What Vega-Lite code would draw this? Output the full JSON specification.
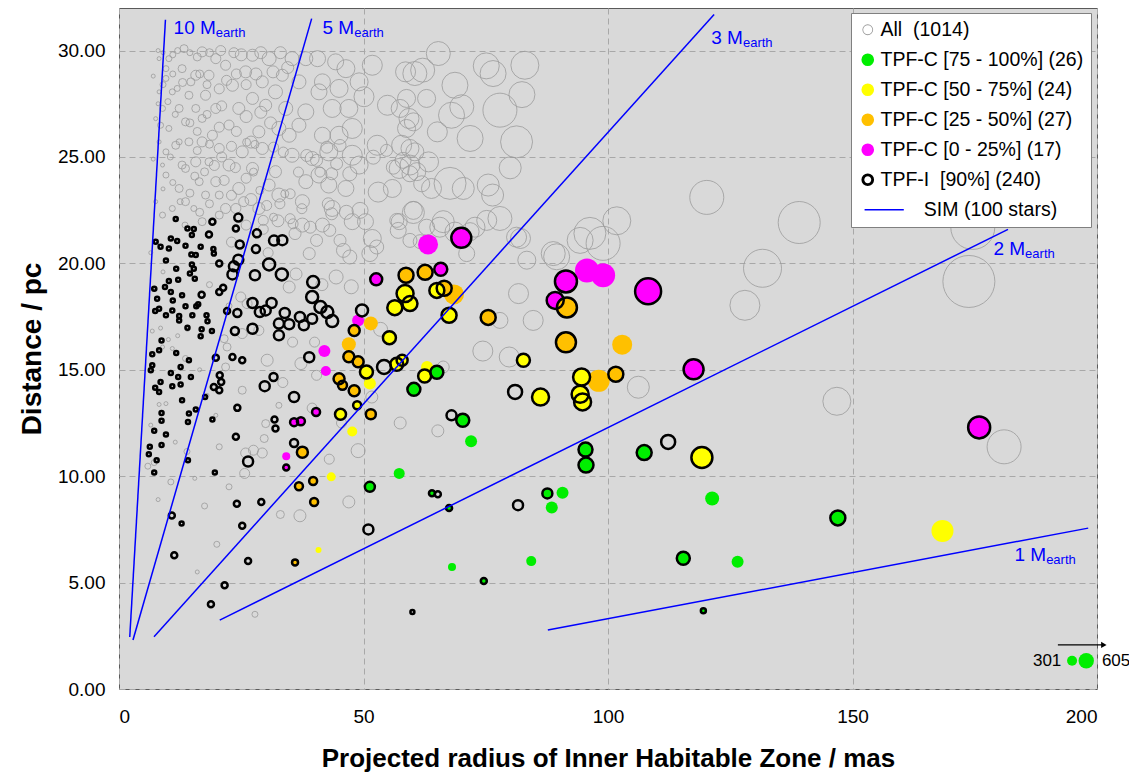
{
"$schema":"https://vega.github.io/schema/vega-lite/v6.json",
"width":978,"height":681,"autosize":"none",
"padding":{"left":119,"top":8,"right":32,"bottom":85},
"background":"white",
"config":{"font":"Liberation Sans","view":{"fill":"#d9d9d9","stroke":"#5a5a5a","strokeWidth":1},
"axis":{"labelFont":"Liberation Sans","labelFontSize":19,"labelColor":"black","titleFont":"Liberation Sans","titleFontWeight":"bold","titleColor":"black","grid":true,"gridColor":"#a8a8a8","gridDash":[6,4],"gridWidth":1,"domain":false,"ticks":false}},
"datasets":{
"pts":[
{"x":120.2,"y":23.1,"r":17,"c":"A","i":0},{"x":139.1,"y":21.92,"r":21,"c":"A","i":0},{"x":173.8,"y":19.15,"r":26,"c":"A","i":0},{"x":174.6,"y":21.69,"r":22,"c":"A","i":0},{"x":131.6,"y":19.77,"r":19,"c":"A","i":0},{"x":128.0,"y":18.03,"r":15,"c":"A","i":0},{"x":181.0,"y":11.38,"r":17,"c":"A","i":0},{"x":146.8,"y":13.52,"r":14,"c":"A","i":0},{"x":106.2,"y":14.18,"r":11,"c":"A","i":0},{"x":101.8,"y":22.0,"r":14,"c":"A","i":0},{"x":96.3,"y":21.41,"r":16,"c":"A","i":0},{"x":99.0,"y":20.94,"r":17,"c":"A","i":0},{"x":89.5,"y":20.31,"r":13,"c":"A","i":0},{"x":83.4,"y":20.15,"r":9,"c":"A","i":0},{"x":82.1,"y":21.17,"r":10,"c":"A","i":0},{"x":77.9,"y":22.11,"r":12,"c":"A","i":0},{"x":71.8,"y":21.49,"r":9,"c":"A","i":0},{"x":66.3,"y":21.96,"r":11,"c":"A","i":0},{"x":60.2,"y":22.39,"r":11,"c":"A","i":0},{"x":61.6,"y":21.02,"r":7,"c":"A","i":0},{"x":67.7,"y":23.76,"r":16,"c":"A","i":0},{"x":70.4,"y":23.52,"r":11,"c":"A","i":0},{"x":75.5,"y":23.68,"r":11,"c":"A","i":0},{"x":76.4,"y":23.21,"r":11,"c":"A","i":0},{"x":80.0,"y":24.49,"r":11,"c":"A","i":0},{"x":81.3,"y":25.71,"r":16,"c":"A","i":0},{"x":77.9,"y":27.2,"r":17,"c":"A","i":0},{"x":82.4,"y":27.93,"r":13,"c":"A","i":0},{"x":83.0,"y":29.31,"r":14,"c":"A","i":0},{"x":76.5,"y":28.92,"r":13,"c":"A","i":0},{"x":75.1,"y":29.28,"r":13,"c":"A","i":0},{"x":68.7,"y":28.37,"r":13,"c":"A","i":0},{"x":65.3,"y":29.86,"r":12,"c":"A","i":0},{"x":62.1,"y":29.08,"r":12,"c":"A","i":0},{"x":60.5,"y":28.92,"r":12,"c":"A","i":0},{"x":70.1,"y":27.36,"r":12,"c":"A","i":0},{"x":68.0,"y":26.96,"r":13,"c":"A","i":0},{"x":65.1,"y":26.18,"r":10,"c":"A","i":0},{"x":71.8,"y":25.87,"r":13,"c":"A","i":0},{"x":63.3,"y":24.77,"r":10,"c":"A","i":0},{"x":59.5,"y":24.62,"r":10,"c":"A","i":0},{"x":63.9,"y":23.52,"r":10,"c":"A","i":0},{"x":60.9,"y":24.31,"r":9,"c":"A","i":0},{"x":58.8,"y":26.34,"r":9,"c":"A","i":0},{"x":60.2,"y":26.65,"r":9,"c":"A","i":0},{"x":62.9,"y":27.75,"r":9,"c":"A","i":0},{"x":58.8,"y":27.75,"r":9,"c":"A","i":0},{"x":57.5,"y":27.28,"r":9,"c":"A","i":0},{"x":59.5,"y":25.4,"r":9,"c":"A","i":0},{"x":60.5,"y":25.24,"r":9,"c":"A","i":0},
{"x":81.3,"y":21.23,"r":10,"c":"A","i":0},{"x":84.7,"y":17.32,"r":10,"c":"A","i":0},{"x":74.4,"y":15.88,"r":10,"c":"A","i":0},{"x":79.8,"y":15.6,"r":10,"c":"A","i":0},{"x":81.7,"y":18.58,"r":10,"c":"A","i":0},{"x":88.8,"y":20.46,"r":12,"c":"A","i":0},{"x":94.3,"y":21.08,"r":13,"c":"A","i":0},{"x":65.6,"y":21.7,"r":10,"c":"A","i":0},{"x":68.7,"y":21.47,"r":10,"c":"A","i":0},{"x":72.8,"y":21.7,"r":10,"c":"A","i":0},{"x":75.2,"y":22.02,"r":10,"c":"A","i":0},{"x":71.1,"y":20.46,"r":8,"c":"A","i":0},{"x":66.3,"y":15.13,"r":6,"c":"A","i":0},{"x":77.9,"y":17.32,"r":8,"c":"A","i":0},{"x":65.2,"y":12.13,"r":6,"c":"A","i":0},{"x":48.9,"y":11.2,"r":7,"c":"A","i":0},{"x":40.4,"y":14.74,"r":5,"c":"A","i":0},{"x":44.4,"y":19.36,"r":7,"c":"A","i":0},{"x":38.9,"y":20.46,"r":6,"c":"A","i":0},{"x":43.1,"y":21.55,"r":6,"c":"A","i":0},{"x":45.9,"y":20.61,"r":7,"c":"A","i":0},{"x":47.2,"y":20.3,"r":7,"c":"A","i":0},{"x":51.3,"y":20.46,"r":8,"c":"A","i":0},{"x":57.1,"y":21.55,"r":8,"c":"A","i":0},{"x":59.5,"y":21.08,"r":7,"c":"A","i":0},{"x":51.7,"y":13.72,"r":6,"c":"A","i":0},
{"x":26.1,"y":25.69,"r":4,"c":"A","i":0},{"x":27.8,"y":25.59,"r":4,"c":"A","i":0},{"x":33.6,"y":25.23,"r":5,"c":"A","i":0},{"x":31.6,"y":25.46,"r":5,"c":"A","i":0},{"x":38.4,"y":25.07,"r":6,"c":"A","i":0},{"x":40.4,"y":24.84,"r":6,"c":"A","i":0},{"x":42.5,"y":25.46,"r":6,"c":"A","i":0},{"x":44.5,"y":24.68,"r":6,"c":"A","i":0},{"x":47.2,"y":24.21,"r":7,"c":"A","i":0},{"x":45.2,"y":25.54,"r":6,"c":"A","i":0},{"x":36.7,"y":24.29,"r":5,"c":"A","i":0},{"x":41.1,"y":24.29,"r":5,"c":"A","i":0},{"x":43.5,"y":24.21,"r":6,"c":"A","i":0},{"x":53.0,"y":23.35,"r":10,"c":"A","i":0},{"x":49.3,"y":22.49,"r":8,"c":"A","i":0},{"x":42.8,"y":22.8,"r":6,"c":"A","i":0},{"x":43.5,"y":22.33,"r":6,"c":"A","i":0},{"x":45.2,"y":21.08,"r":6,"c":"A","i":0},{"x":39.1,"y":21.7,"r":6,"c":"A","i":0},{"x":40.4,"y":21.08,"r":6,"c":"A","i":0},{"x":35.6,"y":21.86,"r":5,"c":"A","i":0},{"x":32.9,"y":22.8,"r":5,"c":"A","i":0},{"x":35.0,"y":23.27,"r":5,"c":"A","i":0},{"x":37.4,"y":22.57,"r":5,"c":"A","i":0},{"x":30.2,"y":22.72,"r":5,"c":"A","i":0},{"x":29.5,"y":22.02,"r":5,"c":"A","i":0},{"x":31.6,"y":22.17,"r":4,"c":"A","i":0},{"x":28.8,"y":23.43,"r":4,"c":"A","i":0},{"x":27.5,"y":24.29,"r":4,"c":"A","i":0},{"x":33.9,"y":23.27,"r":4,"c":"A","i":0},{"x":35.0,"y":22.1,"r":5,"c":"A","i":0},{"x":52.0,"y":24.99,"r":7,"c":"A","i":0},{"x":54.7,"y":25.31,"r":6,"c":"A","i":0},{"x":56.1,"y":24.52,"r":7,"c":"A","i":0},{"x":58.1,"y":24.84,"r":8,"c":"A","i":0},{"x":59.5,"y":24.21,"r":8,"c":"A","i":0},{"x":60.2,"y":22.49,"r":9,"c":"A","i":0},{"x":56.8,"y":22.02,"r":7,"c":"A","i":0},{"x":62.9,"y":21.7,"r":8,"c":"A","i":0},{"x":52.7,"y":20.77,"r":7,"c":"A","i":0},{"x":61.9,"y":23.74,"r":8,"c":"A","i":0},
{"x":51.8,"y":29.31,"r":10,"c":"A","i":0},{"x":50.1,"y":27.83,"r":10,"c":"A","i":0},{"x":54.9,"y":27.43,"r":10,"c":"A","i":0},{"x":58.6,"y":29.0,"r":10,"c":"A","i":0},{"x":59.3,"y":26.81,"r":10,"c":"A","i":0},{"x":57.8,"y":25.55,"r":10,"c":"A","i":0},{"x":57.3,"y":24.46,"r":10,"c":"A","i":0},{"x":52.8,"y":25.55,"r":10,"c":"A","i":0},{"x":47.7,"y":26.34,"r":10,"c":"A","i":0},{"x":47.7,"y":25.08,"r":10,"c":"A","i":0},{"x":42.9,"y":25.24,"r":9,"c":"A","i":0},{"x":41.6,"y":26.02,"r":8,"c":"A","i":0},{"x":43.6,"y":27.28,"r":9,"c":"A","i":0},{"x":44.3,"y":29.47,"r":8,"c":"A","i":0},{"x":40.6,"y":29.62,"r":8,"c":"A","i":0},{"x":41.6,"y":28.53,"r":8,"c":"A","i":0},{"x":42.9,"y":23.68,"r":8,"c":"A","i":0},{"x":50.4,"y":21.96,"r":8,"c":"A","i":0},{"x":55.9,"y":23.52,"r":9,"c":"A","i":0},{"x":57.3,"y":21.96,"r":8,"c":"A","i":0},{"x":51.8,"y":21.17,"r":9,"c":"A","i":0},{"x":41.6,"y":21.8,"r":7,"c":"A","i":0},{"x":37.5,"y":22.9,"r":7,"c":"A","i":0},{"x":39.5,"y":24.93,"r":7,"c":"A","i":0},{"x":38.2,"y":27.12,"r":8,"c":"A","i":0},{"x":36.8,"y":28.53,"r":7,"c":"A","i":0},{"x":35.4,"y":29.62,"r":7,"c":"A","i":0},{"x":30.7,"y":29.62,"r":7,"c":"A","i":0},{"x":30.0,"y":27.43,"r":6,"c":"A","i":0},{"x":32.7,"y":26.34,"r":7,"c":"A","i":0},{"x":28.6,"y":26.18,"r":6,"c":"A","i":0},{"x":27.3,"y":27.75,"r":6,"c":"A","i":0},{"x":24.5,"y":27.28,"r":6,"c":"A","i":0},{"x":23.2,"y":28.37,"r":6,"c":"A","i":0},{"x":25.9,"y":29.0,"r":6,"c":"A","i":0},{"x":27.3,"y":29.78,"r":6,"c":"A","i":0},{"x":21.8,"y":29.31,"r":5,"c":"A","i":0},{"x":19.8,"y":29.62,"r":5,"c":"A","i":0},{"x":17.0,"y":29.94,"r":5,"c":"A","i":0},{"x":15.7,"y":28.84,"r":5,"c":"A","i":0},{"x":17.7,"y":27.9,"r":5,"c":"A","i":0},{"x":19.8,"y":27.28,"r":5,"c":"A","i":0},{"x":17.0,"y":25.71,"r":5,"c":"A","i":0},{"x":20.5,"y":25.4,"r":5,"c":"A","i":0},{"x":15.7,"y":24.77,"r":5,"c":"A","i":0},{"x":22.5,"y":24.62,"r":6,"c":"A","i":0},{"x":27.3,"y":24.46,"r":6,"c":"A","i":0},{"x":25.2,"y":25.24,"r":6,"c":"A","i":0},{"x":29.3,"y":25.4,"r":6,"c":"A","i":0},{"x":30.7,"y":23.68,"r":6,"c":"A","i":0},{"x":24.5,"y":23.52,"r":6,"c":"A","i":0},{"x":21.8,"y":22.58,"r":5,"c":"A","i":0},{"x":19.8,"y":23.84,"r":5,"c":"A","i":0},{"x":16.4,"y":23.84,"r":4,"c":"A","i":0},{"x":13.6,"y":22.9,"r":4,"c":"A","i":0},{"x":12.3,"y":23.52,"r":4,"c":"A","i":0},{"x":10.9,"y":22.58,"r":3,"c":"A","i":0},{"x":8.9,"y":22.27,"r":3,"c":"A","i":0},{"x":9.6,"y":24.15,"r":3,"c":"A","i":0},{"x":12.9,"y":24.62,"r":4,"c":"A","i":0},{"x":11.6,"y":25.55,"r":4,"c":"A","i":0},{"x":9.6,"y":25.24,"r":3,"c":"A","i":0},{"x":10.2,"y":26.34,"r":3,"c":"A","i":0},{"x":8.9,"y":27.28,"r":3,"c":"A","i":0},{"x":10.9,"y":28.06,"r":3,"c":"A","i":0},{"x":9.6,"y":28.69,"r":3,"c":"A","i":0},{"x":10.2,"y":29.62,"r":3,"c":"A","i":0},{"x":12.9,"y":29.15,"r":4,"c":"A","i":0},{"x":13.3,"y":30.09,"r":4,"c":"A","i":0},{"x":15.7,"y":27.28,"r":4,"c":"A","i":0},{"x":13.6,"y":26.65,"r":4,"c":"A","i":0},{"x":14.3,"y":27.9,"r":4,"c":"A","i":0},{"x":12.3,"y":27.28,"r":4,"c":"A","i":0},{"x":8.2,"y":28.06,"r":2,"c":"A","i":0},{"x":8.2,"y":29.62,"r":2,"c":"A","i":0},{"x":8.5,"y":26.49,"r":3,"c":"A","i":0},{"x":8.2,"y":25.71,"r":2,"c":"A","i":0},{"x":8.9,"y":24.62,"r":2,"c":"A","i":0},{"x":11.9,"y":28.22,"r":3,"c":"A","i":0},{"x":9.6,"y":29.15,"r":3,"c":"A","i":0},{"x":14.7,"y":28.53,"r":4,"c":"A","i":0},{"x":18.4,"y":28.84,"r":5,"c":"A","i":0},{"x":17.0,"y":26.81,"r":4,"c":"A","i":0},{"x":19.1,"y":26.02,"r":5,"c":"A","i":0},{"x":14.3,"y":25.71,"r":4,"c":"A","i":0},{"x":12.3,"y":25.71,"r":3,"c":"A","i":0},{"x":13.6,"y":24.46,"r":4,"c":"A","i":0},{"x":18.4,"y":24.77,"r":4,"c":"A","i":0},{"x":20.5,"y":23.21,"r":4,"c":"A","i":0},{"x":17.7,"y":23.21,"r":4,"c":"A","i":0},{"x":15.3,"y":22.58,"r":3,"c":"A","i":0},{"x":17.0,"y":21.96,"r":4,"c":"A","i":0},{"x":20.5,"y":22.27,"r":4,"c":"A","i":0},{"x":23.9,"y":22.58,"r":5,"c":"A","i":0},{"x":28.6,"y":22.58,"r":6,"c":"A","i":0},{"x":32.7,"y":23.21,"r":7,"c":"A","i":0},{"x":32.0,"y":24.31,"r":6,"c":"A","i":0},{"x":35.4,"y":25.08,"r":7,"c":"A","i":0},{"x":34.8,"y":26.02,"r":7,"c":"A","i":0},{"x":36.8,"y":26.49,"r":7,"c":"A","i":0},{"x":32.0,"y":28.06,"r":7,"c":"A","i":0},{"x":34.1,"y":27.28,"r":7,"c":"A","i":0},{"x":29.3,"y":28.53,"r":6,"c":"A","i":0},{"x":33.4,"y":28.84,"r":6,"c":"A","i":0},{"x":38.2,"y":29.62,"r":7,"c":"A","i":0},{"x":40.9,"y":28.06,"r":8,"c":"A","i":0},{"x":45.0,"y":28.22,"r":9,"c":"A","i":0},{"x":46.4,"y":29.15,"r":9,"c":"A","i":0},{"x":49.1,"y":28.53,"r":9,"c":"A","i":0},{"x":47.0,"y":27.28,"r":9,"c":"A","i":0},{"x":45.0,"y":26.02,"r":9,"c":"A","i":0},{"x":49.1,"y":24.62,"r":9,"c":"A","i":0},{"x":40.9,"y":24.15,"r":8,"c":"A","i":0},{"x":38.2,"y":23.84,"r":7,"c":"A","i":0},{"x":46.4,"y":23.52,"r":8,"c":"A","i":0},{"x":43.6,"y":22.58,"r":8,"c":"A","i":0},{"x":47.7,"y":21.96,"r":8,"c":"A","i":0},{"x":37.5,"y":21.8,"r":7,"c":"A","i":0},
{"x":8.0,"y":30.0,"r":2,"c":"A","i":0},{"x":9.0,"y":29.9,"r":2,"c":"A","i":0},{"x":11.0,"y":29.8,"r":3,"c":"A","i":0},{"x":12.0,"y":30.0,"r":3,"c":"A","i":0},{"x":14.5,"y":29.9,"r":3,"c":"A","i":0},{"x":16.0,"y":29.7,"r":4,"c":"A","i":0},{"x":18.5,"y":29.9,"r":4,"c":"A","i":0},{"x":20.8,"y":30.0,"r":5,"c":"A","i":0},{"x":23.5,"y":29.9,"r":5,"c":"A","i":0},{"x":25.0,"y":29.8,"r":6,"c":"A","i":0},{"x":29.0,"y":29.9,"r":6,"c":"A","i":0},{"x":33.0,"y":29.9,"r":6,"c":"A","i":0},{"x":34.5,"y":29.2,"r":6,"c":"A","i":0},{"x":31.5,"y":29.0,"r":6,"c":"A","i":0},{"x":28.0,"y":28.9,"r":6,"c":"A","i":0},{"x":26.0,"y":28.4,"r":5,"c":"A","i":0},{"x":24.0,"y":28.9,"r":5,"c":"A","i":0},{"x":22.0,"y":28.6,"r":5,"c":"A","i":0},{"x":20.5,"y":28.2,"r":5,"c":"A","i":0},{"x":18.0,"y":28.4,"r":4,"c":"A","i":0},{"x":16.5,"y":28.9,"r":4,"c":"A","i":0},{"x":13.0,"y":28.5,"r":4,"c":"A","i":0},{"x":11.0,"y":28.9,"r":3,"c":"A","i":0},{"x":9.0,"y":28.4,"r":3,"c":"A","i":0},{"x":8.0,"y":27.5,"r":2,"c":"A","i":0},{"x":10.0,"y":27.6,"r":3,"c":"A","i":0},{"x":11.5,"y":27.0,"r":3,"c":"A","i":0},{"x":14.5,"y":26.6,"r":4,"c":"A","i":0},{"x":16.0,"y":26.2,"r":4,"c":"A","i":0},{"x":18.0,"y":27.0,"r":4,"c":"A","i":0},{"x":21.0,"y":27.4,"r":5,"c":"A","i":0},{"x":22.5,"y":26.5,"r":5,"c":"A","i":0},{"x":20.5,"y":26.4,"r":5,"c":"A","i":0},{"x":24.0,"y":26.2,"r":5,"c":"A","i":0},{"x":26.0,"y":26.9,"r":6,"c":"A","i":0},{"x":29.0,"y":27.1,"r":6,"c":"A","i":0},{"x":31.0,"y":26.6,"r":6,"c":"A","i":0},{"x":27.0,"y":25.7,"r":6,"c":"A","i":0},{"x":23.0,"y":25.5,"r":5,"c":"A","i":0},{"x":18.5,"y":25.6,"r":4,"c":"A","i":0},{"x":16.0,"y":25.3,"r":4,"c":"A","i":0},{"x":10.5,"y":25.0,"r":3,"c":"A","i":0},{"x":9.0,"y":23.5,"r":2,"c":"A","i":0},{"x":11.0,"y":23.8,"r":3,"c":"A","i":0},{"x":12.5,"y":22.9,"r":3,"c":"A","i":0},{"x":14.5,"y":23.3,"r":4,"c":"A","i":0},{"x":15.5,"y":24.1,"r":4,"c":"A","i":0},{"x":17.5,"y":24.3,"r":4,"c":"A","i":0},{"x":19.5,"y":24.6,"r":5,"c":"A","i":0},{"x":21.5,"y":23.9,"r":5,"c":"A","i":0},{"x":23.0,"y":23.2,"r":5,"c":"A","i":0},{"x":25.5,"y":22.9,"r":5,"c":"A","i":0},{"x":27.0,"y":23.0,"r":6,"c":"A","i":0},{"x":26.0,"y":24.0,"r":5,"c":"A","i":0},{"x":23.8,"y":24.5,"r":5,"c":"A","i":0},{"x":21.0,"y":25.0,"r":5,"c":"A","i":0},{"x":18.5,"y":22.8,"r":4,"c":"A","i":0},{"x":16.5,"y":22.4,"r":4,"c":"A","i":0},{"x":13.5,"y":21.8,"r":3,"c":"A","i":0},{"x":7.5,"y":22.9,"r":2,"c":"A","i":0},{"x":7.0,"y":24.9,"r":2,"c":"A","i":0},{"x":7.5,"y":26.8,"r":2,"c":"A","i":0},{"x":7.0,"y":28.8,"r":2,"c":"A","i":0},{"x":23.0,"y":21.0,"r":5,"c":"A","i":0},{"x":26.0,"y":21.8,"r":5,"c":"A","i":0},{"x":29.5,"y":21.6,"r":5,"c":"A","i":0},{"x":32.5,"y":22.0,"r":6,"c":"A","i":0},{"x":36.0,"y":21.4,"r":6,"c":"A","i":0},{"x":36.2,"y":19.5,"r":6,"c":"A","i":0},{"x":41.5,"y":19.0,"r":6,"c":"A","i":0},{"x":47.5,"y":18.9,"r":7,"c":"A","i":0},{"x":30.5,"y":20.5,"r":5,"c":"A","i":0},{"x":46.5,"y":22.4,"r":7,"c":"A","i":0},
{"x":6.8,"y":16.82,"r":2,"c":"A","i":0},{"x":8.5,"y":16.96,"r":2,"c":"A","i":0},{"x":10.1,"y":16.42,"r":2,"c":"A","i":0},{"x":10.9,"y":16.0,"r":2,"c":"A","i":0},{"x":8.2,"y":13.37,"r":2,"c":"A","i":0},{"x":9.6,"y":13.41,"r":2,"c":"A","i":0},{"x":13.6,"y":15.53,"r":3,"c":"A","i":0},{"x":19.8,"y":12.86,"r":2,"c":"A","i":0},{"x":25.2,"y":16.7,"r":5,"c":"A","i":0},{"x":25.2,"y":14.04,"r":4,"c":"A","i":0},{"x":21.8,"y":15.13,"r":4,"c":"A","i":0},{"x":21.5,"y":16.46,"r":4,"c":"A","i":0},{"x":22.1,"y":16.07,"r":4,"c":"A","i":0},{"x":30.0,"y":12.47,"r":4,"c":"A","i":0},{"x":30.3,"y":15.45,"r":6,"c":"A","i":0},{"x":37.2,"y":15.29,"r":6,"c":"A","i":0},{"x":29.7,"y":11.77,"r":4,"c":"A","i":0},{"x":32.7,"y":13.33,"r":3,"c":"A","i":0},{"x":20.5,"y":11.38,"r":3,"c":"A","i":0},{"x":13.9,"y":11.16,"r":3,"c":"A","i":0},{"x":25.9,"y":11.09,"r":5,"c":"A","i":0},{"x":27.5,"y":11.22,"r":5,"c":"A","i":0},{"x":29.3,"y":11.09,"r":5,"c":"A","i":0},{"x":25.7,"y":10.13,"r":5,"c":"A","i":0},{"x":10.6,"y":9.73,"r":3,"c":"A","i":0},{"x":7.2,"y":10.64,"r":3,"c":"A","i":0},{"x":5.9,"y":10.47,"r":3,"c":"A","i":0},{"x":47.0,"y":8.79,"r":6,"c":"A","i":0},{"x":37.0,"y":8.14,"r":6,"c":"A","i":0},{"x":27.8,"y":3.51,"r":3,"c":"A","i":0},{"x":8.9,"y":16.07,"r":2,"c":"A","i":0},{"x":34.8,"y":18.89,"r":6,"c":"A","i":0},{"x":24.9,"y":18.42,"r":5,"c":"A","i":0},{"x":26.2,"y":18.11,"r":5,"c":"A","i":0},{"x":28.6,"y":16.85,"r":5,"c":"A","i":0},{"x":7.5,"y":18.8,"r":2,"c":"A","i":0},{"x":9.0,"y":19.6,"r":2,"c":"A","i":0},{"x":6.5,"y":20.5,"r":2,"c":"A","i":0},{"x":12.0,"y":16.6,"r":2,"c":"A","i":0},{"x":14.0,"y":16.9,"r":2,"c":"A","i":0},{"x":16.5,"y":15.0,"r":2,"c":"A","i":0},{"x":18.0,"y":13.8,"r":2,"c":"A","i":0},{"x":6.5,"y":12.4,"r":2,"c":"A","i":0},{"x":11.5,"y":11.6,"r":2,"c":"A","i":0},{"x":15.5,"y":9.9,"r":2,"c":"A","i":0},{"x":17.5,"y":8.6,"r":3,"c":"A","i":0},{"x":8.0,"y":8.9,"r":2,"c":"A","i":0},{"x":22.5,"y":9.5,"r":3,"c":"A","i":0},{"x":20.0,"y":6.8,"r":3,"c":"A","i":0},{"x":16.0,"y":5.5,"r":2,"c":"A","i":0},{"x":33.0,"y":8.2,"r":4,"c":"A","i":0},{"x":43.0,"y":10.8,"r":5,"c":"A","i":0},{"x":45.5,"y":12.5,"r":5,"c":"A","i":0},{"x":39.5,"y":13.2,"r":5,"c":"A","i":0},{"x":33.5,"y":14.4,"r":5,"c":"A","i":0},{"x":35.5,"y":16.3,"r":5,"c":"A","i":0},{"x":40.0,"y":16.3,"r":5,"c":"A","i":0},{"x":22.5,"y":18.0,"r":3,"c":"A","i":0},{"x":18.5,"y":19.0,"r":3,"c":"A","i":0},{"x":57.5,"y":12.5,"r":6,"c":"A","i":0},{"x":53.5,"y":16.9,"r":7,"c":"A","i":0},
{"x":11.6,"y":22.08,"r":2,"c":"I","i":1},{"x":14.0,"y":21.64,"r":2,"c":"I","i":1},{"x":15.3,"y":21.61,"r":2,"c":"I","i":1},{"x":14.9,"y":21.33,"r":2,"c":"I","i":1},{"x":10.6,"y":21.17,"r":2,"c":"I","i":1},{"x":11.9,"y":21.05,"r":2,"c":"I","i":1},{"x":7.5,"y":21.02,"r":2,"c":"I","i":1},{"x":8.5,"y":20.78,"r":2,"c":"I","i":1},{"x":10.2,"y":20.7,"r":2,"c":"I","i":1},{"x":13.6,"y":20.83,"r":2,"c":"I","i":1},{"x":15.7,"y":20.39,"r":2,"c":"I","i":1},{"x":16.7,"y":20.78,"r":2,"c":"I","i":1},{"x":19.3,"y":20.67,"r":2,"c":"I","i":1},{"x":19.1,"y":21.96,"r":3,"c":"I","i":1},{"x":18.4,"y":21.36,"r":3,"c":"I","i":1},{"x":23.9,"y":21.64,"r":3,"c":"I","i":1},{"x":24.4,"y":22.15,"r":4,"c":"I","i":1},{"x":24.7,"y":20.89,"r":4,"c":"I","i":1},{"x":28.2,"y":21.41,"r":4,"c":"I","i":1},{"x":28.0,"y":20.67,"r":4,"c":"I","i":1},{"x":31.7,"y":21.07,"r":5,"c":"I","i":1},{"x":33.4,"y":21.09,"r":5,"c":"I","i":1},
{"x":9.6,"y":20.14,"r":2,"c":"I","i":1},{"x":14.8,"y":20.42,"r":2,"c":"I","i":1},{"x":19.4,"y":20.46,"r":2,"c":"I","i":1},{"x":14.9,"y":19.95,"r":2,"c":"I","i":1},{"x":15.3,"y":19.75,"r":2,"c":"I","i":1},{"x":14.5,"y":19.52,"r":2,"c":"I","i":1},{"x":15.5,"y":19.28,"r":2,"c":"I","i":1},{"x":11.7,"y":19.75,"r":2,"c":"I","i":1},{"x":10.2,"y":19.17,"r":2,"c":"I","i":1},{"x":12.1,"y":19.23,"r":2,"c":"I","i":1},{"x":7.2,"y":18.81,"r":2,"c":"I","i":1},{"x":9.4,"y":18.89,"r":2,"c":"I","i":1},{"x":10.6,"y":18.65,"r":2,"c":"I","i":1},{"x":12.9,"y":18.5,"r":2,"c":"I","i":1},{"x":7.8,"y":18.34,"r":2,"c":"I","i":1},{"x":11.0,"y":18.26,"r":2,"c":"I","i":1},{"x":16.9,"y":18.53,"r":3,"c":"I","i":1},{"x":16.2,"y":18.08,"r":2,"c":"I","i":1},{"x":15.8,"y":17.98,"r":2,"c":"I","i":1},{"x":13.6,"y":17.98,"r":2,"c":"I","i":1},{"x":7.4,"y":17.76,"r":2,"c":"I","i":1},{"x":8.2,"y":17.87,"r":2,"c":"I","i":1},{"x":9.6,"y":17.56,"r":2,"c":"I","i":1},{"x":10.9,"y":17.79,"r":2,"c":"I","i":1},{"x":12.3,"y":17.53,"r":2,"c":"I","i":1},{"x":12.3,"y":17.32,"r":2,"c":"I","i":1},{"x":15.0,"y":17.56,"r":2,"c":"I","i":1},{"x":17.9,"y":17.56,"r":2,"c":"I","i":1},{"x":18.1,"y":17.28,"r":2,"c":"I","i":1},{"x":14.0,"y":16.98,"r":2,"c":"I","i":1},{"x":16.9,"y":16.9,"r":2,"c":"I","i":1},{"x":16.7,"y":16.57,"r":2,"c":"I","i":1},{"x":19.0,"y":16.82,"r":2,"c":"I","i":1},{"x":8.7,"y":16.38,"r":2,"c":"I","i":1},{"x":6.8,"y":15.73,"r":2,"c":"I","i":1},{"x":8.2,"y":15.92,"r":2,"c":"I","i":1},{"x":11.7,"y":15.79,"r":2,"c":"I","i":1},{"x":14.3,"y":15.45,"r":2,"c":"I","i":1},{"x":6.8,"y":15.21,"r":2,"c":"I","i":1},{"x":6.5,"y":14.98,"r":2,"c":"I","i":1},{"x":12.6,"y":15.13,"r":2,"c":"I","i":1},{"x":10.6,"y":14.85,"r":2,"c":"I","i":1},{"x":12.1,"y":14.66,"r":2,"c":"I","i":1},{"x":8.5,"y":14.43,"r":2,"c":"I","i":1},{"x":10.9,"y":14.23,"r":2,"c":"I","i":1},{"x":12.6,"y":14.31,"r":2,"c":"I","i":1},{"x":7.4,"y":14.16,"r":2,"c":"I","i":1},{"x":8.2,"y":13.96,"r":2,"c":"I","i":1},{"x":14.7,"y":14.66,"r":2,"c":"I","i":1},{"x":12.9,"y":13.57,"r":2,"c":"I","i":1},{"x":17.6,"y":13.72,"r":2,"c":"I","i":1},{"x":8.7,"y":12.97,"r":2,"c":"I","i":1},{"x":14.3,"y":12.94,"r":2,"c":"I","i":1},{"x":15.7,"y":13.13,"r":2,"c":"I","i":1},{"x":8.7,"y":12.6,"r":2,"c":"I","i":1},{"x":14.1,"y":12.55,"r":2,"c":"I","i":1},{"x":19.1,"y":12.66,"r":2,"c":"I","i":1},{"x":7.2,"y":12.13,"r":2,"c":"I","i":1},{"x":9.6,"y":11.96,"r":2,"c":"I","i":1},{"x":6.3,"y":11.38,"r":2,"c":"I","i":1},{"x":8.7,"y":11.47,"r":2,"c":"I","i":1},
{"x":20.5,"y":19.99,"r":3,"c":"I","i":1},{"x":21.3,"y":18.86,"r":3,"c":"I","i":1},{"x":20.5,"y":18.65,"r":3,"c":"I","i":1},{"x":22.1,"y":17.76,"r":3,"c":"I","i":1},{"x":19.8,"y":15.57,"r":3,"c":"I","i":1},{"x":23.2,"y":15.6,"r":3,"c":"I","i":1},{"x":25.2,"y":15.45,"r":3,"c":"I","i":1},{"x":20.6,"y":14.74,"r":3,"c":"I","i":1},{"x":20.9,"y":14.43,"r":3,"c":"I","i":1},{"x":19.4,"y":14.19,"r":3,"c":"I","i":1},{"x":20.5,"y":14.04,"r":3,"c":"I","i":1},{"x":24.2,"y":13.21,"r":3,"c":"I","i":1},{"x":23.9,"y":11.85,"r":3,"c":"I","i":1},{"x":24.4,"y":20.17,"r":5,"c":"I","i":1},{"x":23.5,"y":19.86,"r":5,"c":"I","i":1},{"x":23.2,"y":19.48,"r":5,"c":"I","i":1},{"x":27.8,"y":19.44,"r":5,"c":"I","i":1},{"x":30.7,"y":19.95,"r":6,"c":"I","i":1},{"x":33.3,"y":19.48,"r":6,"c":"I","i":1},{"x":27.3,"y":18.14,"r":5,"c":"I","i":1},{"x":28.8,"y":17.71,"r":5,"c":"I","i":1},{"x":30.0,"y":17.79,"r":5,"c":"I","i":1},{"x":31.2,"y":18.14,"r":5,"c":"I","i":1},{"x":33.9,"y":17.67,"r":5,"c":"I","i":1},{"x":32.7,"y":17.17,"r":5,"c":"I","i":1},{"x":34.8,"y":17.14,"r":5,"c":"I","i":1},{"x":32.7,"y":16.62,"r":5,"c":"I","i":1},{"x":27.3,"y":16.93,"r":5,"c":"I","i":1},{"x":24.2,"y":17.67,"r":4,"c":"I","i":1},{"x":23.7,"y":16.82,"r":4,"c":"I","i":1},{"x":37.0,"y":17.48,"r":5,"c":"I","i":1},{"x":37.8,"y":17.09,"r":5,"c":"I","i":1},{"x":39.5,"y":17.4,"r":5,"c":"I","i":1},{"x":39.7,"y":19.12,"r":6,"c":"I","i":1},{"x":39.5,"y":18.42,"r":6,"c":"I","i":1},{"x":41.2,"y":17.95,"r":6,"c":"I","i":1},{"x":42.6,"y":17.71,"r":6,"c":"I","i":1},{"x":43.6,"y":17.29,"r":6,"c":"I","i":1},{"x":38.9,"y":15.59,"r":5,"c":"I","i":1},{"x":31.6,"y":14.66,"r":4,"c":"I","i":1},{"x":29.8,"y":14.23,"r":5,"c":"I","i":1},{"x":35.8,"y":13.72,"r":5,"c":"I","i":1},{"x":31.8,"y":12.66,"r":3,"c":"I","i":1},{"x":32.0,"y":12.24,"r":3,"c":"I","i":1},{"x":35.8,"y":11.56,"r":4,"c":"I","i":1},
{"x":49.7,"y":17.79,"r":6,"c":"I","i":1},{"x":54.2,"y":15.13,"r":7,"c":"I","i":1},{"x":81.0,"y":13.96,"r":7,"c":"I","i":1},{"x":68.0,"y":12.86,"r":5,"c":"I","i":1},{"x":112.3,"y":11.61,"r":7,"c":"I","i":1},{"x":81.6,"y":8.64,"r":5,"c":"I","i":1},{"x":51.0,"y":7.5,"r":5,"c":"I","i":1},{"x":26.4,"y":10.69,"r":5,"c":"I","i":1},{"x":65.2,"y":9.15,"r":3,"c":"I","i":1},
{"x":6.1,"y":11.03,"r":2,"c":"I","i":1},{"x":7.7,"y":10.75,"r":2,"c":"I","i":1},{"x":7.2,"y":10.17,"r":2,"c":"I","i":1},{"x":14.1,"y":10.75,"r":2,"c":"I","i":1},{"x":19.6,"y":10.17,"r":2,"c":"I","i":1},{"x":24.1,"y":8.7,"r":3,"c":"I","i":1},{"x":29.1,"y":8.79,"r":3,"c":"I","i":1},{"x":10.8,"y":8.15,"r":3,"c":"I","i":1},{"x":12.8,"y":7.78,"r":2,"c":"I","i":1},{"x":25.2,"y":7.67,"r":3,"c":"I","i":1},{"x":11.3,"y":6.29,"r":3,"c":"I","i":1},{"x":26.4,"y":6.01,"r":3,"c":"I","i":1},{"x":21.6,"y":4.88,"r":3,"c":"I","i":1},{"x":18.8,"y":3.98,"r":3,"c":"I","i":1},{"x":60.0,"y":3.62,"r":2,"c":"I","i":1},
{"x":63.2,"y":20.89,"r":10,"c":"M","i":0},{"x":70.0,"y":21.2,"r":10,"c":"M","i":1},{"x":65.8,"y":19.72,"r":6.5,"c":"M","i":1},{"x":52.6,"y":19.25,"r":6,"c":"M","i":1},{"x":48.9,"y":17.32,"r":6,"c":"M","i":0},{"x":42.0,"y":15.88,"r":6,"c":"M","i":0},{"x":42.3,"y":14.94,"r":5,"c":"M","i":0},{"x":40.3,"y":13.02,"r":4,"c":"M","i":1},{"x":35.8,"y":12.54,"r":4,"c":"M","i":1},{"x":37.2,"y":12.58,"r":4,"c":"M","i":1},{"x":34.2,"y":10.41,"r":3,"c":"M","i":1},{"x":34.2,"y":10.94,"r":4,"c":"M","i":0},{"x":95.7,"y":19.67,"r":12,"c":"M","i":0},{"x":99.0,"y":19.44,"r":12,"c":"M","i":0},{"x":91.4,"y":19.15,"r":11,"c":"M","i":1},{"x":89.2,"y":18.26,"r":8.5,"c":"M","i":1},{"x":108.2,"y":18.69,"r":13,"c":"M","i":1},{"x":117.5,"y":15.02,"r":10,"c":"M","i":1},{"x":175.9,"y":12.29,"r":11,"c":"M","i":1},
{"x":58.7,"y":19.44,"r":7.5,"c":"O","i":1},{"x":62.6,"y":19.58,"r":7.5,"c":"O","i":1},{"x":66.5,"y":18.83,"r":7.5,"c":"O","i":1},{"x":68.5,"y":18.54,"r":10,"c":"O","i":0},{"x":75.5,"y":17.46,"r":7.5,"c":"O","i":1},{"x":51.5,"y":17.18,"r":7,"c":"O","i":0},{"x":48.1,"y":16.85,"r":5.5,"c":"O","i":1},{"x":47.0,"y":16.2,"r":7,"c":"O","i":0},{"x":47.0,"y":15.61,"r":5.5,"c":"O","i":1},{"x":48.9,"y":15.38,"r":5.5,"c":"O","i":1},{"x":45.0,"y":14.58,"r":5.5,"c":"O","i":1},{"x":45.7,"y":14.27,"r":4.5,"c":"O","i":1},{"x":48.1,"y":14.01,"r":5.5,"c":"O","i":1},{"x":51.5,"y":12.91,"r":5,"c":"O","i":1},{"x":37.5,"y":11.13,"r":5.5,"c":"O","i":1},{"x":36.8,"y":9.53,"r":4,"c":"O","i":1},{"x":39.7,"y":9.77,"r":4,"c":"O","i":1},{"x":39.9,"y":8.79,"r":4,"c":"O","i":1},{"x":36.0,"y":5.95,"r":3,"c":"O","i":1},{"x":91.6,"y":17.93,"r":10,"c":"O","i":1},{"x":91.4,"y":16.29,"r":10,"c":"O","i":1},{"x":98.1,"y":14.48,"r":11,"c":"O","i":0},{"x":102.9,"y":16.18,"r":10,"c":"O","i":0},{"x":101.6,"y":14.79,"r":7.5,"c":"O","i":1},
{"x":58.5,"y":18.58,"r":8.5,"c":"Y","i":1},{"x":56.4,"y":17.92,"r":7.5,"c":"Y","i":1},{"x":59.5,"y":18.11,"r":7.5,"c":"Y","i":1},{"x":67.5,"y":17.56,"r":7.5,"c":"Y","i":1},{"x":65.0,"y":18.73,"r":7.5,"c":"Y","i":1},{"x":55.3,"y":16.51,"r":6.5,"c":"Y","i":1},{"x":50.6,"y":14.9,"r":6.5,"c":"Y","i":1},{"x":56.8,"y":15.26,"r":6.5,"c":"Y","i":1},{"x":57.9,"y":15.45,"r":5.5,"c":"Y","i":1},{"x":51.3,"y":14.35,"r":6,"c":"Y","i":0},{"x":63.0,"y":15.13,"r":6,"c":"Y","i":0},{"x":62.5,"y":14.71,"r":6.5,"c":"Y","i":1},{"x":45.3,"y":12.91,"r":5.5,"c":"Y","i":1},{"x":47.7,"y":12.1,"r":5,"c":"Y","i":0},{"x":82.7,"y":15.45,"r":6.5,"c":"Y","i":1},{"x":86.2,"y":13.72,"r":8.5,"c":"Y","i":1},{"x":94.6,"y":14.66,"r":8.5,"c":"Y","i":1},{"x":94.3,"y":13.85,"r":8.5,"c":"Y","i":1},{"x":94.8,"y":13.49,"r":8.5,"c":"Y","i":1},{"x":119.2,"y":10.88,"r":10.5,"c":"Y","i":1},{"x":168.4,"y":7.43,"r":11,"c":"Y","i":0},{"x":48.7,"y":13.33,"r":4,"c":"Y","i":1},{"x":43.4,"y":9.97,"r":4.5,"c":"Y","i":0},{"x":40.8,"y":6.53,"r":3,"c":"Y","i":0},
{"x":65.0,"y":14.88,"r":6.5,"c":"G","i":1},{"x":60.3,"y":14.08,"r":6.5,"c":"G","i":1},{"x":70.3,"y":12.63,"r":6.5,"c":"G","i":1},{"x":72.0,"y":11.64,"r":6,"c":"G","i":0},{"x":95.4,"y":11.25,"r":7,"c":"G","i":1},{"x":95.5,"y":10.52,"r":7.5,"c":"G","i":1},{"x":107.4,"y":11.11,"r":7.5,"c":"G","i":1},{"x":87.6,"y":9.19,"r":5,"c":"G","i":1},{"x":90.7,"y":9.22,"r":6,"c":"G","i":0},{"x":88.5,"y":8.53,"r":6,"c":"G","i":0},{"x":121.3,"y":8.95,"r":7,"c":"G","i":0},{"x":147.0,"y":8.04,"r":7.5,"c":"G","i":1},{"x":115.4,"y":6.14,"r":6.5,"c":"G","i":1},{"x":126.5,"y":5.98,"r":6,"c":"G","i":0},{"x":119.5,"y":3.68,"r":2.5,"c":"G","i":1},{"x":57.3,"y":10.13,"r":5.5,"c":"G","i":0},{"x":51.3,"y":9.5,"r":5,"c":"G","i":1},{"x":84.3,"y":6.01,"r":5,"c":"G","i":0},{"x":68.1,"y":5.73,"r":4,"c":"G","i":0},{"x":74.6,"y":5.07,"r":3,"c":"G","i":1},{"x":67.5,"y":8.5,"r":3,"c":"G","i":1},{"x":64.0,"y":9.2,"r":3,"c":"G","i":1}
],
"lines":[{"m":"10","x":2.2,"y":2.44},{"m":"10","x":9.5,"y":31.45},{"m":"5","x":2.86,"y":2.3},{"m":"5","x":39.4,"y":31.5},{"m":"3","x":7.16,"y":2.46},{"m":"3","x":121.7,"y":31.7},{"m":"2","x":20.6,"y":3.24},{"m":"2","x":181.8,"y":21.6},{"m":"1","x":87.7,"y":2.77},{"m":"1","x":198.2,"y":7.56}],
"lbl":[{"x":19.8,"y":31.05,"t":"10 M","s":"earth"},{"x":48.1,"y":31.05,"t":"5 M","s":"earth"},{"x":127.6,"y":30.6,"t":"3 M","s":"earth"},{"x":185.3,"y":20.69,"t":"2 M","s":"earth"},{"x":189.6,"y":6.29,"t":"1 M","s":"earth"}],
"sz":[{"x":194.9,"y":1.33,"r":5},{"x":197.8,"y":1.33,"r":7.7}],
"szt":[{"x":186.9,"y":1.33,"t":"301"},{"x":201.0,"y":1.33,"t":"605"}],
"arrow":[{"x":192.0,"y":2.07},{"x":201.2,"y":2.07}],
"head":[{"x":201.4,"y":2.07}]
},
"encoding":{
"x":{"field":"x","type":"quantitative","scale":{"domain":[0,200],"nice":false,"zero":false},"axis":{"values":[0,50,100,150,200],"title":"Projected radius of Inner Habitable Zone / mas","titleFontSize":26,"labelPadding":18,"titlePadding":19}},
"y":{"field":"y","type":"quantitative","scale":{"domain":[0,32],"nice":false,"zero":false},"axis":{"values":[0,5,10,15,20,25,30],"format":".2f","title":"Distance / pc","titleFontSize":28,"labelPadding":14,"titlePadding":11}}
},
"layer":[
{"data":{"name":"pts"},"transform":[{"filter":"datum.c==='A'"}],"mark":{"type":"point","filled":false,"stroke":"#9a9a9a","strokeWidth":0.8,"opacity":1},
 "encoding":{"size":{"field":"r","type":"quantitative","scale":{"type":"pow","exponent":2,"domain":[0,30],"range":[0,3600],"zero":true},"legend":null}}},
{"data":{"name":"pts"},"transform":[{"filter":"datum.c!=='A' && datum.c!=='I'"}],"mark":{"type":"point","filled":true,"opacity":1,"strokeWidth":0},
 "encoding":{"size":{"field":"r","type":"quantitative","legend":null},
 "color":{"field":"c","type":"nominal","scale":{"domain":["G","Y","O","M"],"range":["#00ee00","#ffff00","#ffc000","#ff00ff"]},"legend":null}}},
{"data":{"name":"pts"},"transform":[{"filter":"datum.i===1"}],"mark":{"type":"point","filled":false,"stroke":"#000000","strokeWidth":2.5,"opacity":1},
 "encoding":{"size":{"field":"r","type":"quantitative","legend":null}}},
{"data":{"name":"lines"},"mark":{"type":"line","color":"#0000ff","strokeWidth":1.5,"clip":true},"encoding":{"detail":{"field":"m","type":"nominal"}}},
{"data":{"name":"lbl"},"mark":{"type":"text","align":"right","baseline":"middle","fontSize":19,"color":"#0000ff","font":"Liberation Sans"},"encoding":{"text":{"field":"t"}}},
{"data":{"name":"lbl"},"mark":{"type":"text","align":"left","baseline":"middle","fontSize":13,"dy":5,"color":"#0000ff","font":"Liberation Sans"},"encoding":{"text":{"field":"s"}}},
{"data":{"name":"sz"},"mark":{"type":"point","filled":true,"color":"#00ee00","opacity":1,"strokeWidth":0},"encoding":{"size":{"field":"r","type":"quantitative","legend":null}}},
{"data":{"name":"szt"},"mark":{"type":"text","align":"left","baseline":"middle","fontSize":17,"color":"black","font":"Liberation Sans"},"encoding":{"text":{"field":"t"}}},
{"data":{"name":"arrow"},"mark":{"type":"line","color":"black","strokeWidth":1.2,"clip":false},"encoding":{}},
{"data":{"name":"head"},"mark":{"type":"point","shape":"triangle-right","filled":true,"color":"black","size":40,"opacity":1,"clip":false},"encoding":{}},
{"data":{"values":[]},"mark":{"type":"point","filled":true,"opacity":1,"strokeWidth":0},
 "encoding":{
  "fill":{"field":"c","type":"nominal","scale":{"domain":["A","G","Y","O","M","I","S"],"range":["#9a9a9a","#00ee00","#ffff00","#ffc000","#ff00ff","#000000","#0000ff"]},
   "legend":{"title":null,"orient":"none","legendX":732,"legendY":5,"fillColor":"white","strokeColor":"#808080","padding":7,"labelFont":"Liberation Sans","labelFontSize":19.5,"labelColor":"black","labelLimit":400,"rowPadding":9,"labelOffset":3,"symbolSize":160,"symbolOpacity":1,"symbolStrokeWidth":0,
    "labelExpr":"{'A':'All\u00a0\u00a0(1014)','G':'TPF-C [75 - 100%] (26)','Y':'TPF-C [50 - 75%] (24)','O':'TPF-C [25 - 50%] (27)','M':'TPF-C [0 - 25%] (17)','I':'TPF-I\u00a0\u00a0[90%] (240)','S':'\u200b\u00a0\u00a0\u00a0\u00a0\u00a0\u00a0\u00a0\u00a0SIM (100 stars)'}[datum.value]"}},
  "shape":{"field":"c","type":"nominal","scale":{"domain":["A","G","Y","O","M","I","S"],"range":[
   "M 0.85 0 L 0.785 0.325 L 0.601 0.601 L 0.325 0.785 L 0 0.85 L -0.325 0.785 L -0.601 0.601 L -0.785 0.325 L -0.85 0 L -0.785 -0.325 L -0.601 -0.601 L -0.325 -0.785 L 0 -0.85 L 0.325 -0.785 L 0.601 -0.601 L 0.785 -0.325 Z M 0.72 0 L 0.665 -0.276 L 0.509 -0.509 L 0.276 -0.665 L 0 -0.72 L -0.276 -0.665 L -0.509 -0.509 L -0.665 -0.276 L -0.72 0 L -0.665 0.276 L -0.509 0.509 L -0.276 0.665 L 0 0.72 L 0.276 0.665 L 0.509 0.509 L 0.665 0.276 Z",
   "circle","circle","circle","circle",
   "M 1 0 L 0.924 0.383 L 0.707 0.707 L 0.383 0.924 L 0 1 L -0.383 0.924 L -0.707 0.707 L -0.924 0.383 L -1 0 L -0.924 -0.383 L -0.707 -0.707 L -0.383 -0.924 L 0 -1 L 0.383 -0.924 L 0.707 -0.707 L 0.924 -0.383 Z M 0.55 0 L 0.508 -0.21 L 0.389 -0.389 L 0.21 -0.508 L 0 -0.55 L -0.21 -0.508 L -0.389 -0.389 L -0.508 -0.21 L -0.55 0 L -0.508 0.21 L -0.389 0.389 L -0.21 0.508 L 0 0.55 L 0.21 0.508 L 0.389 0.389 L 0.508 0.21 Z",
   "M -0.5 -0.12 L 5.7 -0.12 L 5.7 0.12 L -0.5 0.12 Z"]},"legend":{"title":null}}
 }}
]
}
